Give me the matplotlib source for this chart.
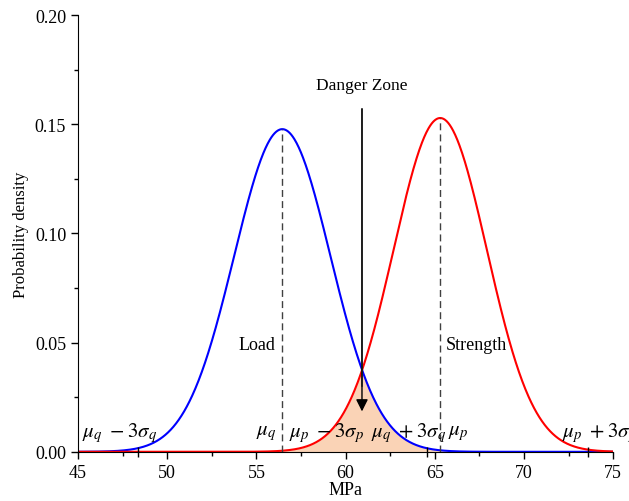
import numpy as np
import matplotlib.pyplot as plt

plt.rcParams['font.family'] = ['Liberation Serif', 'DejaVu Serif']
plt.rcParams['mathtext.fontset'] = 'stix'

# distribution parameters
mu_q, sigma_q = 56.45, 2.70   # load
mu_p, sigma_p = 65.3, 2.61    # strength
x_range = (45, 75)
sigma_ticks = [48.35, 64.55, 73.58]

labels = [r'$\mu_q\ -3\sigma_q$', r'$\mu_q$', r'$\mu_p\ -3\sigma_p$',
          r'$\mu_q\ +3\sigma_q$', r'$\mu_p$', r'$\mu_p\ +3\sigma_p$']
label_x = [45.2, 54.95, 56.8, 61.4, 65.75, 72.15]


def pdf(x, mu, s):
    return np.exp(-0.5 * ((x - mu) / s) ** 2) / (s * np.sqrt(2 * np.pi))


x = np.linspace(x_range[0], x_range[1], 1000)
yq = pdf(x, mu_q, sigma_q)
yp = pdf(x, mu_p, sigma_p)

fig = plt.figure(figsize=(6.29, 5.02), dpi=100)
ax = fig.add_axes([0.124, 0.098, 0.851, 0.87])

# overlap region
ax.fill_between(x, 0, np.minimum(yq, yp), color='#fad3b6', lw=0)
ax.plot(x, yq, color='#0000ff', lw=1.5)
ax.plot(x, yp, color='#ff0000', lw=1.5)

ax.vlines([mu_q], 0, pdf(mu_q, mu_q, sigma_q), colors='#404040', linestyles=(0, (5, 3)), lw=1)
ax.vlines([mu_p], 0, pdf(mu_p, mu_p, sigma_p), colors='#404040', linestyles=(0, (5, 3)), lw=1)

# crossing point of the two curves
i = np.argmin(np.abs(yq - yp) + (x < mu_q) + (x > mu_p))
xc = x[i]
ax.annotate('', xy=(xc, 0.0185), xytext=(xc, 0.157),
            arrowprops=dict(arrowstyle='-|>', color='black', lw=1, mutation_scale=18,
                            shrinkA=0, shrinkB=0))
ax.plot([xc, xc], [0.03, 0.157], color='#555555', lw=1.2)
ax.text(xc, 0.168, 'Danger Zone', ha='center', va='center', fontsize=12.5)

ax.text(mu_q - 1.4, 0.049, 'Load', ha='center', va='center', fontsize=13)
ax.text(mu_p + 2.0, 0.049, 'Strength', ha='center', va='center', fontsize=13)

for lx, lab in zip(label_x, labels):
    ax.text(lx, 0.009, lab, ha='left', va='center', fontsize=15, clip_on=False)

ax.set_xlim(*x_range)
ax.set_ylim(0, 0.20)
ax.set_xticks(np.arange(45, 76, 5))
ax.set_xticks(np.arange(47.5, 75, 5), minor=True)
ax.set_yticks(np.arange(0, 0.201, 0.05))
ax.set_yticks(np.arange(0.025, 0.2, 0.05), minor=True)
ax.set_yticklabels(['%.2f' % v for v in np.arange(0, 0.201, 0.05)])

# extra ticks at the 3-sigma points
ax.plot(sigma_ticks, [0] * len(sigma_ticks), ls='none', marker='|', color='black',
        markersize=7, markeredgewidth=1, clip_on=False)

for s in ['top', 'right']:
    ax.spines[s].set_visible(False)
ax.tick_params(which='major', direction='out', length=5, width=1, labelsize=13)
ax.tick_params(which='minor', direction='out', length=3, width=1)
ax.set_xlabel('MPa', fontsize=13, labelpad=0)
ax.set_ylabel('Probability density', fontsize=12)

fig.savefig('out.png', dpi=100)
